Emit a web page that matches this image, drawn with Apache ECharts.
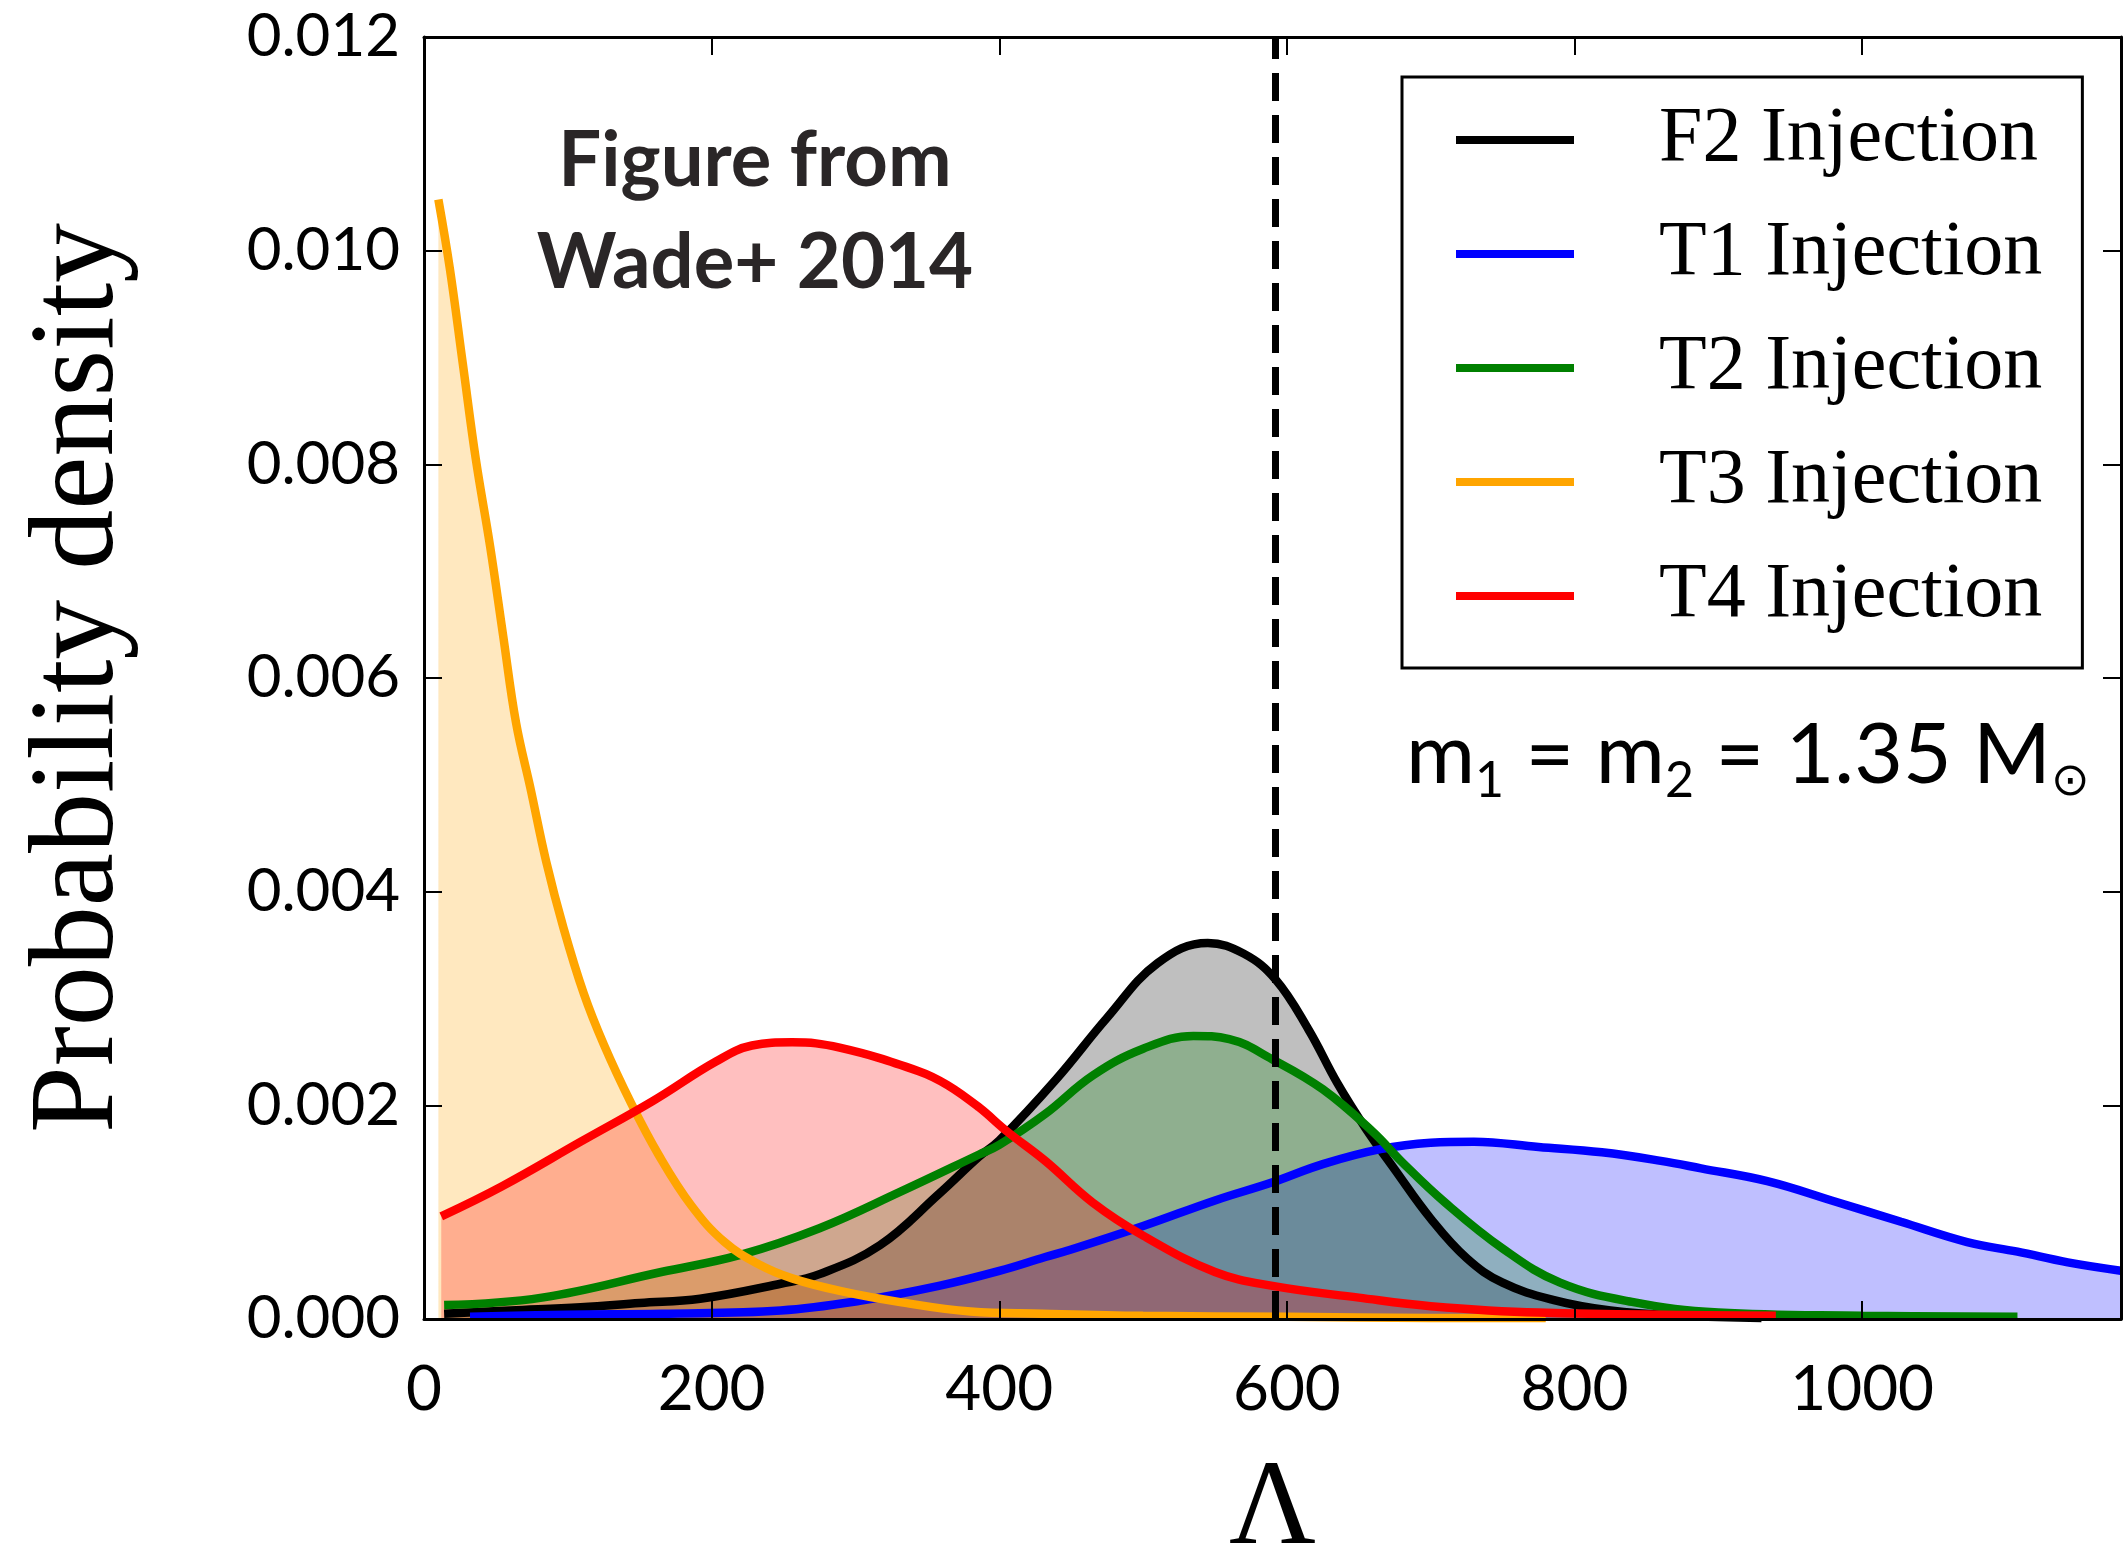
<!DOCTYPE html>
<html>
<head>
<meta charset="utf-8">
<title>Lambda posterior</title>
<script src="https://cdn.jsdelivr.net/npm/echarts@6/dist/echarts.min.js"></script>
<style>
  html, body { margin: 0; padding: 0; background: #fff; }
  #chart { width: 2124px; height: 1543px; }
</style>
</head>
<body>
<div id="chart"></div>
<script>
// values (Lambda, probability density)
const f2Lambda = [14, 60, 109, 150, 192, 248, 275, 317, 358, 386, 400, 440, 475, 510, 545, 570, 592, 615, 635, 655, 675, 700, 725, 750, 785, 825, 875, 930]
const f2Density = [0.00005, 0.00008, 0.00011, 0.00015, 0.00019, 0.00033, 0.00042, 0.00069, 0.00117, 0.00152, 0.00167, 0.00225, 0.00282, 0.00333, 0.00352, 0.00342, 0.00318, 0.00271, 0.00221, 0.00178, 0.00140, 0.00094, 0.00057, 0.00034, 0.00018, 0.00008, 0.00003, 0.00001]

const t1Lambda = [32, 100, 165, 248, 303, 358, 400, 432, 450, 500, 550, 590, 625, 665, 700, 730, 775, 819, 860, 888, 934, 981, 1027, 1073, 1108, 1143, 1181]
const t1Density = [0.00002, 0.00004, 0.00005, 0.00008, 0.00017, 0.00031, 0.00045, 0.00058, 0.00065, 0.00087, 0.00111, 0.00128, 0.00145, 0.00159, 0.00165, 0.00166, 0.00161, 0.00156, 0.00148, 0.00141, 0.00129, 0.00110, 0.00091, 0.00072, 0.00063, 0.00053, 0.00045]

const t2Lambda = [14, 82, 165, 220, 275, 331, 386, 400, 432, 465, 500, 535, 560, 590, 625, 660, 680, 710, 750, 790, 840, 900, 1000, 1108]
const t2Density = [0.00013, 0.00020, 0.00044, 0.00060, 0.00085, 0.00119, 0.00154, 0.00163, 0.00192, 0.00228, 0.00253, 0.00265, 0.00262, 0.00243, 0.00215, 0.00175, 0.00147, 0.00109, 0.00066, 0.00034, 0.00016, 0.00006, 0.00003, 0.00002]

const t3Lambda = [10, 18, 27, 36, 46, 55, 64, 74, 85, 97, 111, 125, 144, 163, 186, 209, 233, 256, 290, 330, 380, 430, 500, 600, 700, 780]
const t3Density = [0.01048, 0.00983, 0.00894, 0.00805, 0.00723, 0.00640, 0.00558, 0.00497, 0.00428, 0.00366, 0.00305, 0.00257, 0.00202, 0.00154, 0.00106, 0.00072, 0.00051, 0.00038, 0.00026, 0.00016, 0.00007, 0.00005, 0.00003, 0.00002, 0.00001, 0.00001]

const t4Lambda = [12, 54, 109, 159, 203, 228, 256, 289, 344, 364, 386, 405, 432, 465, 500, 550, 590, 650, 700, 775, 940]
const t4Density = [0.00096, 0.00124, 0.00166, 0.00204, 0.00241, 0.00256, 0.00259, 0.00254, 0.00232, 0.00219, 0.00198, 0.00176, 0.00148, 0.00109, 0.00078, 0.00044, 0.00031, 0.00020, 0.00012, 0.00006, 0.00003]

const injectedLambda = 592
const seriesNames = ['F2 Injection', 'T1 Injection', 'T2 Injection', 'T3 Injection', 'T4 Injection']
const seriesColors = ['#000000', '#0000ff', '#008000', '#ffa500', '#ff0000']

const curves = [
    { lambda: f2Lambda, density: f2Density },
    { lambda: t1Lambda, density: t1Density },
    { lambda: t2Lambda, density: t2Density },
    { lambda: t3Lambda, density: t3Density },
    { lambda: t4Lambda, density: t4Density },
]

const toPairs = (xs, ys) => xs.map((x, i) => [x, ys[i]])

const sansFont = 'Lato, "Open Sans", sans-serif'
const serifFont = '"Liberation Serif", "DejaVu Serif", serif'

const frameLine = { show: true, onZero: false, lineStyle: { color: '#000', width: 3 } }
const innerTick = { show: true, inside: true, length: 18, lineStyle: { color: '#000', width: 2 } }

// fills go first so every curve stays on top of all shaded areas
const fillSeries = curves.map((c, i) => ({
    name: seriesNames[i] + ' fill',
    type: 'line',
    data: toPairs(c.lambda, c.density),
    smooth: 0.4,
    showSymbol: false,
    silent: true,
    lineStyle: { opacity: 0 },
    areaStyle: { color: seriesColors[i], opacity: 0.25 },
    z: 1,
}))

const lineSeries = curves.map((c, i) => ({
    name: seriesNames[i],
    type: 'line',
    data: toPairs(c.lambda, c.density),
    smooth: 0.4,
    showSymbol: false,
    lineStyle: { width: 8.5, color: seriesColors[i] },
    itemStyle: { color: seriesColors[i] },
    z: 2,
}))

const injectionLine = {
    name: 'injected',
    type: 'line',
    data: [],
    z: 4,
    markLine: {
        silent: true,
        symbol: 'none',
        label: { show: false },
        lineStyle: { color: '#000', width: 7, type: [28, 14] },
        data: [{ xAxis: injectedLambda }],
    },
}

const chart = echarts.init(document.getElementById('chart'))

chart.setOption({
    backgroundColor: '#fff',
    animation: false,
    grid: { left: 424, right: 3, top: 37, bottom: 224, outerBoundsMode: 'none' },
    legend: {
        data: seriesNames,
        orient: 'vertical',
        left: 1402,
        top: 77,
        padding: [23, 40, 32, 54],
        itemGap: 34,
        itemWidth: 118,
        itemHeight: 8,
        icon: 'rect',
        borderColor: '#000',
        borderWidth: 3,
        borderRadius: 0,
        backgroundColor: '#fff',
        selectedMode: false,
        textStyle: {
            fontFamily: serifFont,
            fontSize: 78,
            lineHeight: 80,
            color: '#000',
            padding: [0, 0, 0, 80],
        },
    },
    xAxis: [
        {
            type: 'value',
            position: 'bottom',
            min: 0,
            max: 1180,
            interval: 200,
            axisLine: frameLine,
            axisTick: innerTick,
            splitLine: { show: false },
            axisLabel: {
                color: '#000',
                fontFamily: sansFont,
                fontSize: 62,
                margin: 40,
                showMaxLabel: false,
                formatter: v => String(v),
            },
            name: 'Λ',
            nameLocation: 'middle',
            nameGap: 132,
            nameTextStyle: { fontFamily: serifFont, fontSize: 120, color: '#000' },
            z: 5,
        },
        {
            type: 'value',
            position: 'top',
            min: 0,
            max: 1180,
            interval: 200,
            axisLine: frameLine,
            axisTick: innerTick,
            splitLine: { show: false },
            axisLabel: { show: false },
            z: 5,
        },
    ],
    yAxis: [
        {
            type: 'value',
            position: 'left',
            min: 0,
            max: 0.012,
            interval: 0.002,
            axisLine: frameLine,
            axisTick: innerTick,
            splitLine: { show: false },
            axisLabel: {
                color: '#000',
                fontFamily: sansFont,
                fontSize: 60,
                margin: 24,
                formatter: v => v.toFixed(3),
            },
            name: 'Probability density',
            nameLocation: 'middle',
            nameRotate: 90,
            nameGap: 284,
            nameTextStyle: { fontFamily: serifFont, fontSize: 120, color: '#000' },
            z: 5,
        },
        {
            type: 'value',
            position: 'right',
            min: 0,
            max: 0.012,
            interval: 0.002,
            axisLine: frameLine,
            axisTick: innerTick,
            splitLine: { show: false },
            axisLabel: { show: false },
            z: 5,
        },
    ],
    graphic: [
        {
            type: 'text',
            x: 755,
            y: 110,
            z: 10,
            style: {
                text: 'Figure from\nWade+ 2014',
                fontFamily: sansFont,
                fontSize: 76,
                fontWeight: 'bold',
                lineHeight: 102,
                fill: '#2a2627',
                align: 'center',
                verticalAlign: 'top',
            },
        },
        {
            type: 'text',
            x: 1406,
            y: 756,
            z: 10,
            style: {
                text: '{m|m}{s|1}{m| = m}{s|2}{m| = 1.35 M}{o|⊙}',
                verticalAlign: 'middle',
                rich: {
                    m: { fontFamily: sansFont, fontSize: 84, lineHeight: 100, fill: '#000' },
                    s: { fontFamily: sansFont, fontSize: 50, lineHeight: 52, verticalAlign: 'bottom', fill: '#000' },
                    o: { fontFamily: '"DejaVu Sans", sans-serif', fontSize: 46, lineHeight: 48, verticalAlign: 'bottom', fill: '#000' },
                },
            },
        },
    ],
    series: [...fillSeries, ...lineSeries, injectionLine],
})
</script>
</body>
</html>
